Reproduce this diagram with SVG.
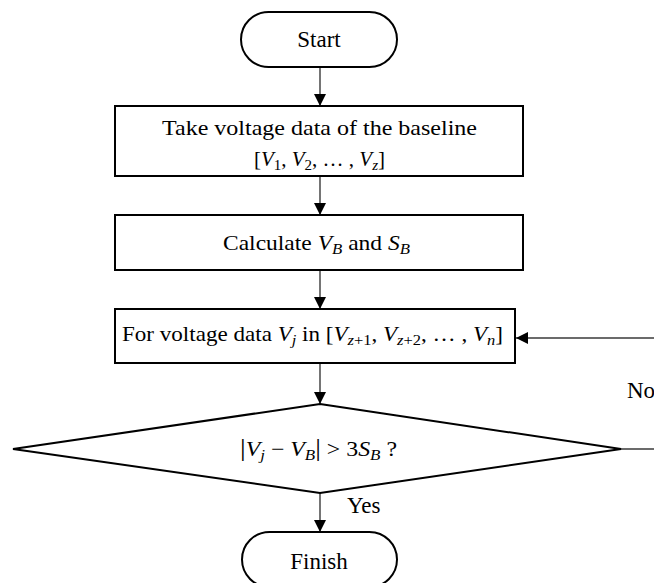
<svg xmlns="http://www.w3.org/2000/svg" width="654" height="583" viewBox="0 0 654 583">
<style>
.node{fill:#fff;stroke:#000;stroke-width:2}
.conn{stroke:#3a3a3a;stroke-width:1.4;fill:none}
.t{font-family:"Liberation Serif","Times New Roman",serif;font-size:21px;fill:#000}
.b{font-size:23px}
.m{font-style:italic}
.s{font-size:15px}
</style>
<defs>
<marker id="ah" viewBox="0 0 12 12" refX="12" refY="6" markerWidth="12" markerHeight="12" markerUnits="userSpaceOnUse" orient="auto">
<path d="M0,0 L12,6 L0,12 Z" fill="#000"/>
</marker>
</defs>
<g id="connectors">
<line class="conn" x1="320" y1="67" x2="320" y2="106" marker-end="url(#ah)"/>
<line class="conn" x1="320" y1="176" x2="320" y2="215" marker-end="url(#ah)"/>
<line class="conn" x1="320" y1="270" x2="320" y2="309" marker-end="url(#ah)"/>
<line class="conn" x1="320" y1="363" x2="320" y2="404" marker-end="url(#ah)"/>
<line class="conn" x1="320" y1="493" x2="320" y2="532" marker-end="url(#ah)"/>
<line class="conn" x1="621" y1="449" x2="654" y2="449"/>
<line class="conn" x1="654" y1="338" x2="516" y2="338" marker-end="url(#ah)"/>
<text class="t b" x="627" y="398">No</text>
<text class="t b" x="347" y="513">Yes</text>
</g>
<g id="start">
<rect class="node" x="241" y="12" width="156" height="55" rx="27.5" ry="27.5"/>
<text class="t b" x="319" y="47" text-anchor="middle">Start</text>
</g>
<g id="take">
<rect class="node" x="115" y="106" width="408" height="70"/>
<text class="t" x="319.5" y="135" text-anchor="middle" textLength="315" lengthAdjust="spacingAndGlyphs">Take voltage data of the baseline</text>
<text class="t" x="319.5" y="166" text-anchor="middle">[<tspan class="m">V</tspan><tspan class="s" dy="4">1</tspan><tspan dy="-4">, </tspan><tspan class="m">V</tspan><tspan class="s" dy="4">2</tspan><tspan dy="-4">, … , </tspan><tspan class="m">V</tspan><tspan class="s m" dy="4">z</tspan><tspan dy="-4">]</tspan></text>
</g>
<g id="calc">
<rect class="node" x="115" y="215" width="408" height="55"/>
<text class="t" x="223" y="250" textLength="187" lengthAdjust="spacingAndGlyphs">Calculate <tspan class="m">V</tspan><tspan class="s m" dy="4">B</tspan><tspan dy="-4"> and </tspan><tspan class="m">S</tspan><tspan class="s m" dy="4">B</tspan></text>
</g>
<g id="loop">
<rect class="node" x="115" y="309" width="400" height="54"/>
<text class="t" x="122" y="341" textLength="381" lengthAdjust="spacingAndGlyphs">For voltage data <tspan class="m">V</tspan><tspan class="s m" dy="4">j</tspan><tspan dy="-4"> in [</tspan><tspan class="m">V</tspan><tspan class="s" dy="4"><tspan class="m">z</tspan>+1</tspan><tspan dy="-4">, </tspan><tspan class="m">V</tspan><tspan class="s" dy="4"><tspan class="m">z</tspan>+2</tspan><tspan dy="-4">, … , </tspan><tspan class="m">V</tspan><tspan class="s m" dy="4">n</tspan><tspan dy="-4">]</tspan></text>
</g>
<g id="decision">
<polygon class="node" points="320,404 621,449 320,493 13,449"/>
<text class="t" x="240" y="456" textLength="157" lengthAdjust="spacingAndGlyphs"><tspan font-size="25">|</tspan><tspan class="m">V</tspan><tspan class="s m" dy="4">j</tspan><tspan dy="-4"> − </tspan><tspan class="m">V</tspan><tspan class="s m" dy="4">B</tspan><tspan dy="-4" font-size="25">|</tspan><tspan> &gt; 3</tspan><tspan class="m">S</tspan><tspan class="s m" dy="4">B</tspan><tspan dy="-4"> ?</tspan></text>
</g>
<g id="finish">
<rect class="node" x="242" y="532" width="155" height="55" rx="27.5" ry="27.5"/>
<text class="t b" x="319" y="569" text-anchor="middle">Finish</text>
</g>
</svg>
